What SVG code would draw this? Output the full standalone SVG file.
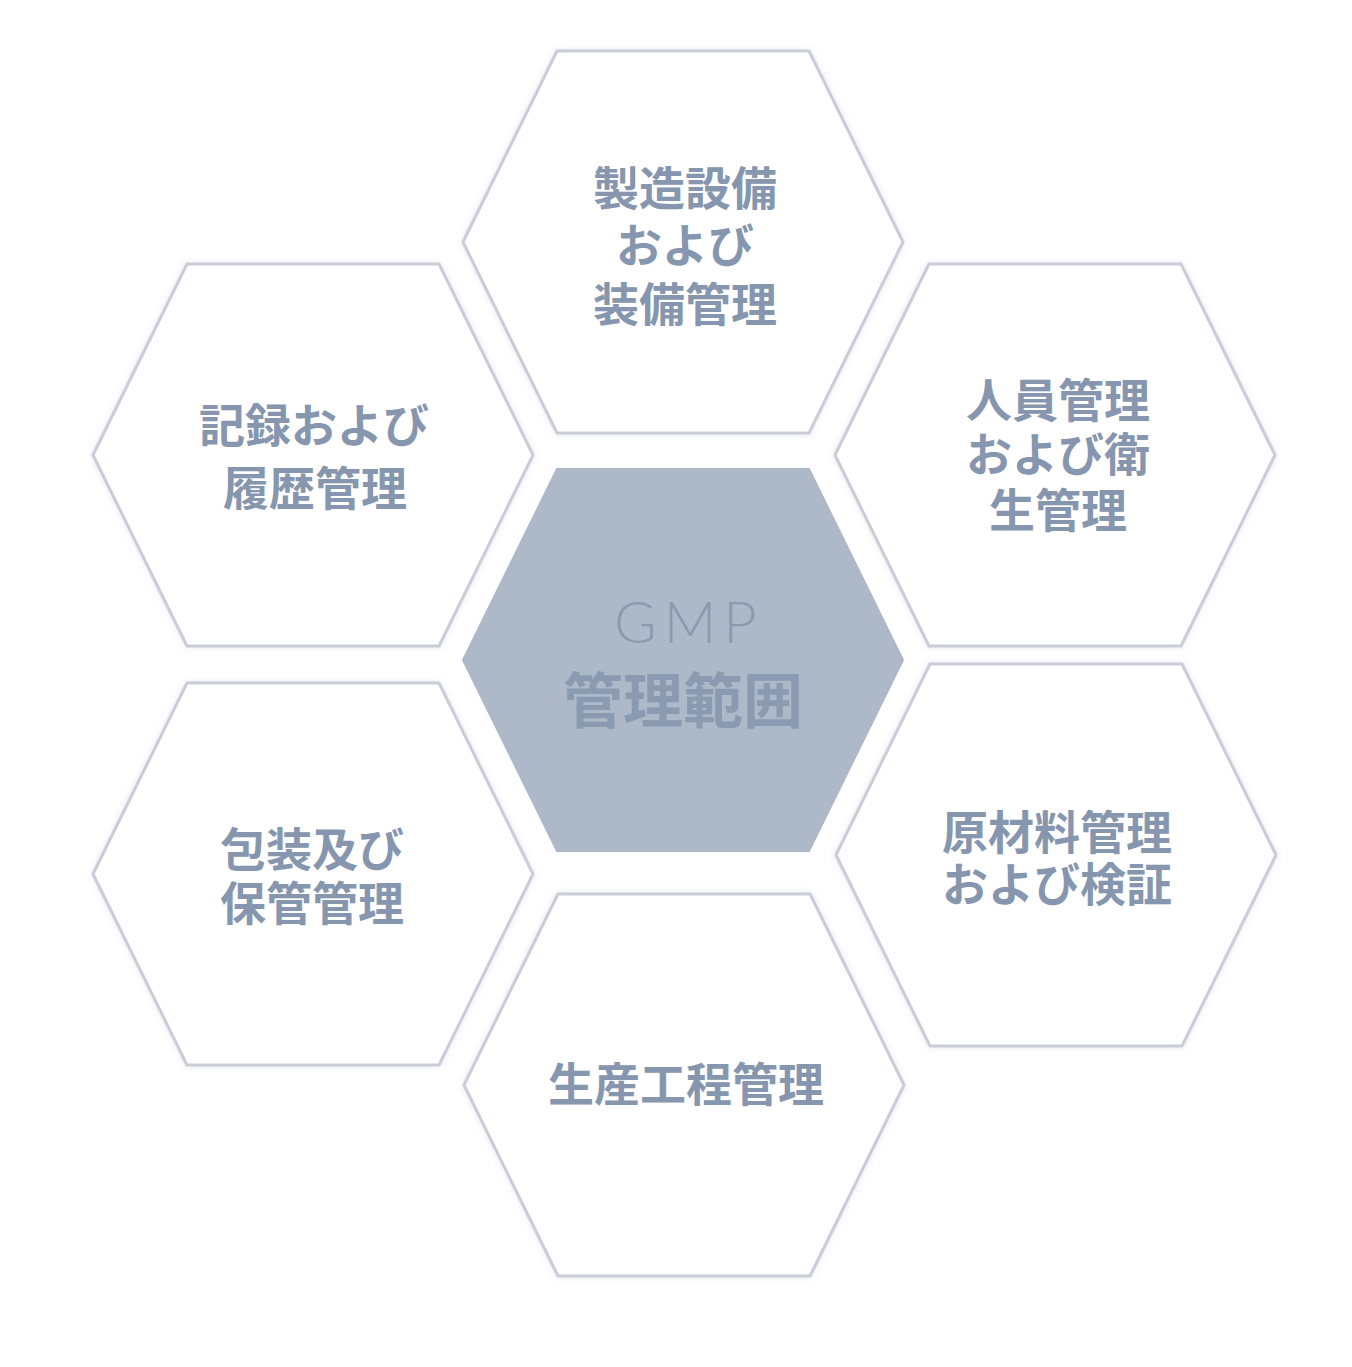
<svg xmlns="http://www.w3.org/2000/svg" xmlns:xlink="http://www.w3.org/1999/xlink" width="1352" height="1367" viewBox="0 0 1352 1367">
  <style>
    .hex { fill: #ffffff; stroke: #c9cdd7; stroke-width: 3; stroke-linejoin: round; }
    .core { fill: #adb8c9; stroke: #adb8c9; stroke-width: 2; stroke-linejoin: round; }
    .lbl { font-family: "Noto Sans CJK JP", "Noto Sans", sans-serif; font-weight: 700; font-size: 46px; fill: #8596ae; text-anchor: middle; }
    .gmp { font-family: Lato, "Open Sans", sans-serif; font-weight: 300; font-size: 58px; fill: #8a9ab1; text-anchor: middle; letter-spacing: 7px; }
    .core-lbl { font-family: "Noto Sans CJK JP", sans-serif; font-weight: 700; font-size: 60px; fill: #8a9ab1; text-anchor: middle; }
  </style>
  <defs>
    <path id="hexshape" d="M -126 -191 L 126 -191 L 220 0 L 126 191 L -126 191 L -220 0 Z"/>
    <filter id="soft" x="-10%" y="-10%" width="120%" height="120%">
      <feDropShadow dx="0" dy="0" stdDeviation="3" flood-color="#9aa3b5" flood-opacity="0.25"/>
    </filter>
  </defs>
  <rect width="1352" height="1367" fill="#ffffff"/>

  <g id="connectors"></g>

  <g id="node-top">
    <use xlink:href="#hexshape" href="#hexshape" class="hex" filter="url(#soft)" transform="translate(683,242)"/>
    <text class="lbl"><tspan x="685" y="205">製造設備</tspan><tspan x="685" y="262">および</tspan><tspan x="685" y="321">装備管理</tspan></text>
  </g>

  <g id="node-upper-left">
    <use xlink:href="#hexshape" href="#hexshape" class="hex" filter="url(#soft)" transform="translate(313,455)"/>
    <text class="lbl"><tspan x="314" y="442">記録および</tspan><tspan x="315" y="505">履歴管理</tspan></text>
  </g>

  <g id="node-upper-right">
    <use xlink:href="#hexshape" href="#hexshape" class="hex" filter="url(#soft)" transform="translate(1055,455)"/>
    <text class="lbl"><tspan x="1058" y="417">人員管理</tspan><tspan x="1058" y="471">および衛</tspan><tspan x="1058" y="527">生管理</tspan></text>
  </g>

  <g id="node-center">
    <use xlink:href="#hexshape" href="#hexshape" class="core" transform="translate(683,660)"/>
    <text class="gmp" x="689" y="643">GMP</text>
    <text class="core-lbl" x="683" y="723">管理範囲</text>
  </g>

  <g id="node-lower-left">
    <use xlink:href="#hexshape" href="#hexshape" class="hex" filter="url(#soft)" transform="translate(313,874)"/>
    <text class="lbl"><tspan x="312" y="866">包装及び</tspan><tspan x="312" y="920">保管管理</tspan></text>
  </g>

  <g id="node-lower-right">
    <use xlink:href="#hexshape" href="#hexshape" class="hex" filter="url(#soft)" transform="translate(1056,855)"/>
    <text class="lbl"><tspan x="1057" y="849">原材料管理</tspan><tspan x="1057" y="901">および検証</tspan></text>
  </g>

  <g id="node-bottom">
    <use xlink:href="#hexshape" href="#hexshape" class="hex" filter="url(#soft)" transform="translate(684,1085)"/>
    <text class="lbl" x="686" y="1101">生産工程管理</text>
  </g>
</svg>
